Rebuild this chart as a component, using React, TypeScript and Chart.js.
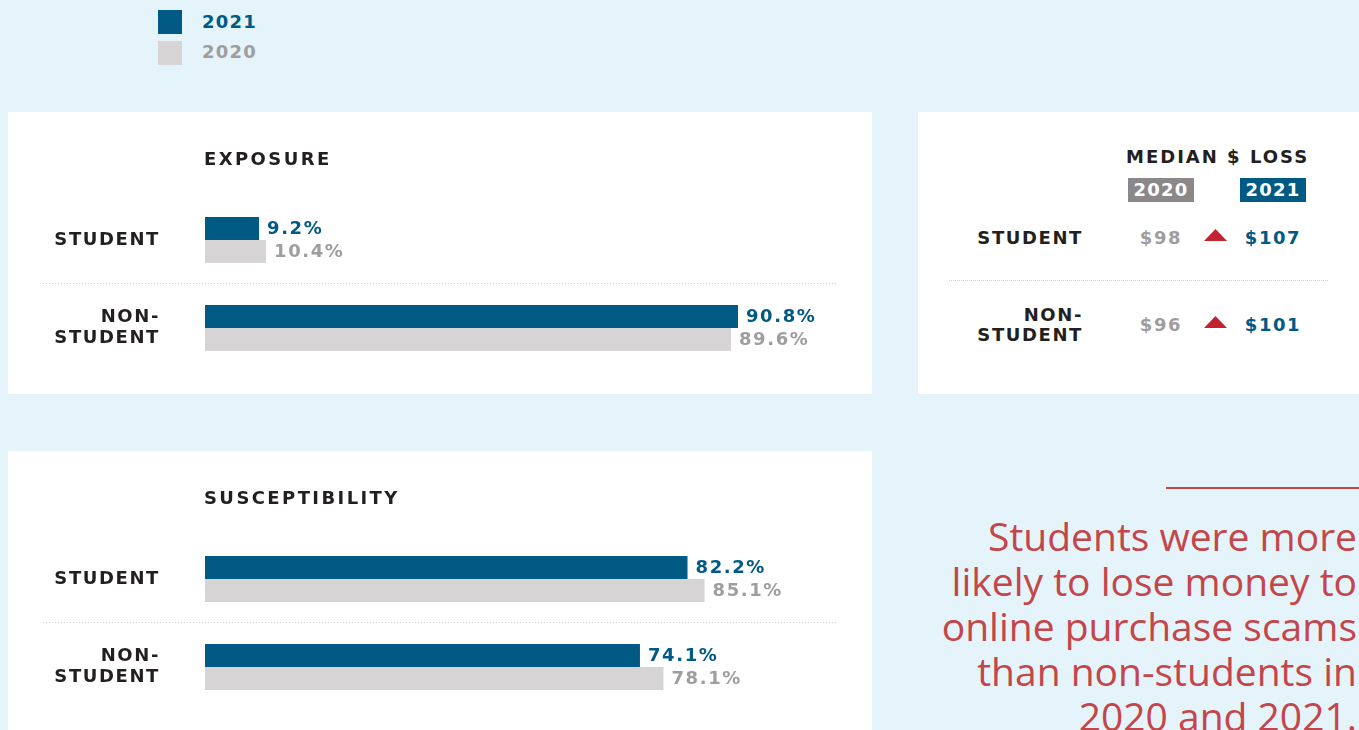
import React, { useEffect, useRef } from "react";
import { Chart, registerables } from "chart.js";

Chart.register(...registerables);

// ---------- data ----------
const years = ["2021", "2020"];
const categories = [["STUDENT"], ["NON-", "STUDENT"]];
const exposure2021 = [9.2, 90.8];
const exposure2020 = [10.4, 89.6];
const susceptibility2021 = [82.2, 74.1];
const susceptibility2020 = [85.1, 78.1];
const lossYears = ["2020", "2021"];
const medianLoss2020 = [98, 96];
const medianLoss2021 = [107, 101];
const xMax = 100;
const noteLines = [
  "Students were more",
  "likely to lose money to",
  "online purchase scams",
  "than non-students in",
  "2020 and 2021.",
];

// ---------- style ----------
const BG = "#e5f4fb";
const BLUE = "#005a84";
const GRAY_BAR = "#d6d4d5";
const GRAY_TEXT = "#a09d9d";
const GRAY_BOX = "#8b8889";
const INK = "#231f20";
const RED = "#c4464a";
const TRI = "#c1232f";
const FONT = '"DejaVu Sans", sans-serif';
const FS = 18;
const LS = "1.6px";
const LS_TITLE = "2.4px";

function BarPanel(props: {
  title: string;
  top: number;
  v2021: number[];
  v2020: number[];
}) {
  const ref = useRef<HTMLCanvasElement>(null);
  useEffect(() => {
    const canvas = ref.current!;
    const labelColors = [BLUE, GRAY_TEXT];
    const plugin = {
      id: "decor",
      beforeDraw(chart: any) {
        chart.ctx.letterSpacing = LS;
      },
      afterDatasetsDraw(chart: any) {
        const { ctx, chartArea, scales } = chart;
        const y = Math.round(scales.y.getPixelForValue(0.5)) - 0.5;
        ctx.save();
        ctx.letterSpacing = "0px";
        ctx.strokeStyle = "#d0d0d0";
        ctx.lineWidth = 1;
        ctx.setLineDash([1, 2]);
        ctx.beginPath();
        ctx.moveTo(chartArea.left - 162, y);
        ctx.lineTo(chartArea.right + 45, y);
        ctx.stroke();
        ctx.restore();
        chart.data.datasets.forEach((ds: any, di: number) => {
          const meta = chart.getDatasetMeta(di);
          meta.data.forEach((el: any, i: number) => {
            ctx.save();
            ctx.letterSpacing = LS;
            ctx.font = `bold ${FS}px ${FONT}`;
            ctx.fillStyle = labelColors[di];
            ctx.textBaseline = "middle";
            ctx.textAlign = "left";
            ctx.fillText(ds.data[i].toFixed(1) + "%", el.x + 8, el.y + 1);
            ctx.restore();
          });
        });
      },
    };
    const chart = new Chart(canvas, {
      type: "bar",
      data: {
        labels: categories,
        datasets: [
          { label: years[0], data: props.v2021, backgroundColor: BLUE },
          { label: years[1], data: props.v2020, backgroundColor: GRAY_BAR },
        ],
      },
      options: {
        indexAxis: "y",
        responsive: false,
        animation: false,
        devicePixelRatio: 1,
        layout: { padding: { top: 84, bottom: 22, left: 0, right: 80 } },
        datasets: {
          bar: { categoryPercentage: 46 / 88, barPercentage: 1, borderWidth: 0 },
        },
        scales: {
          x: { min: 0, max: xMax, display: false },
          y: {
            grid: { display: false, drawTicks: false },
            border: { display: false },
            ticks: {
              color: INK,
              padding: 45,
              crossAlign: "near",
              font: { family: FONT, size: FS, weight: "bold", lineHeight: 1.15 },
            },
            afterFit: (s: any) => {
              s.width = 197;
              s.paddingTop = 0;
              s.paddingBottom = 0;
            },
          },
        },
        plugins: { legend: { display: false }, tooltip: { enabled: false } },
      } as any,
      plugins: [plugin],
    });
    return () => chart.destroy();
  }, []);
  return (
    <div
      style={{
        position: "absolute",
        left: 8,
        top: props.top,
        width: 864,
        height: 282,
        background: "#fff",
      }}
    >
      <canvas ref={ref} width={864} height={282} style={{ display: "block", width: 864, height: 282 }} />
      <div
        style={{
          position: "absolute",
          left: 196,
          top: 37,
          lineHeight: "20px",
          fontFamily: FONT,
          fontWeight: "bold",
          fontSize: FS,
          letterSpacing: LS_TITLE,
          color: INK,
        }}
      >
        {props.title}
      </div>
    </div>
  );
}

const bold: React.CSSProperties = {
  position: "absolute",
  fontFamily: FONT,
  fontWeight: "bold",
  fontSize: FS,
  letterSpacing: LS,
  lineHeight: "20px",
  whiteSpace: "nowrap",
};

function MedianPanel() {
  const rowCenters = [238, 325];
  return (
    <div style={{ position: "absolute", left: 918, top: 112, width: 441, height: 282, background: "#fff" }}>
      <div style={{ ...bold, left: 208, top: 35, letterSpacing: "2px", color: INK }}>
        MEDIAN $ LOSS
      </div>
      {lossYears.map((y, i) => (
        <div
          key={y}
          style={{
            ...bold,
            left: i === 0 ? 210 : 322,
            top: 66,
            width: 66,
            height: 24,
            lineHeight: "24px",
            textAlign: "center",
            letterSpacing: "1.2px",
            color: "#fff",
            background: i === 0 ? GRAY_BOX : BLUE,
          }}
        >
          {y}
        </div>
      ))}
      <div
        style={{
          position: "absolute",
          left: 31,
          top: 168,
          width: 379,
          borderTop: "1px dotted #cfcfcf",
        }}
      />
      {categories.map((c, i) => {
        const cy = rowCenters[i] - 112;
        return (
          <React.Fragment key={i}>
            <div
              style={{
                ...bold,
                left: 20,
                width: 145,
                top: cy - c.length * 10,
                textAlign: "right",
                color: INK,
              }}
            >
              {c.map((l, j) => (
                <div key={j}>{l}</div>
              ))}
            </div>
            <div style={{ ...bold, left: 203, width: 80, top: cy - 10, textAlign: "center", color: GRAY_TEXT }}>
              ${medianLoss2020[i]}
            </div>
            <div
              style={{
                position: "absolute",
                left: 286,
                top: cy - 9,
                width: 23,
                height: 12,
                background: TRI,
                clipPath: "polygon(50% 0, 100% 100%, 0 100%)",
              }}
            />
            <div style={{ ...bold, left: 315, width: 80, top: cy - 10, textAlign: "center", color: BLUE }}>
              ${medianLoss2021[i]}
            </div>
          </React.Fragment>
        );
      })}
    </div>
  );
}

export default function App() {
  return (
    <div style={{ position: "fixed", inset: 0, background: BG, overflow: "hidden" }}>
      {years.map((y, i) => (
        <React.Fragment key={y}>
          <div
            style={{
              position: "absolute",
              left: 158,
              top: 10 + i * 31,
              width: 24,
              height: 24,
              background: i === 0 ? BLUE : GRAY_BAR,
            }}
          />
          <div
            style={{ ...bold, left: 202, top: 12 + i * 30, letterSpacing: "1.2px", color: i === 0 ? BLUE : GRAY_TEXT }}
          >
            {y}
          </div>
        </React.Fragment>
      ))}
      <BarPanel title="EXPOSURE" top={112} v2021={exposure2021} v2020={exposure2020} />
      <MedianPanel />
      <BarPanel title="SUSCEPTIBILITY" top={451} v2021={susceptibility2021} v2020={susceptibility2020} />
      <div style={{ position: "absolute", left: 1166, top: 487, width: 193, height: 2, background: RED }} />
      <div
        style={{
          position: "absolute",
          right: 2,
          top: 513,
          textAlign: "right",
          fontFamily: '"Open Sans", sans-serif',
          fontWeight: 400,
          fontSize: 39,
          lineHeight: "45px",
          color: RED,
          whiteSpace: "nowrap",
        }}
      >
        {noteLines.map((l, i) => (
          <div key={i}>{l}</div>
        ))}
      </div>
    </div>
  );
}
